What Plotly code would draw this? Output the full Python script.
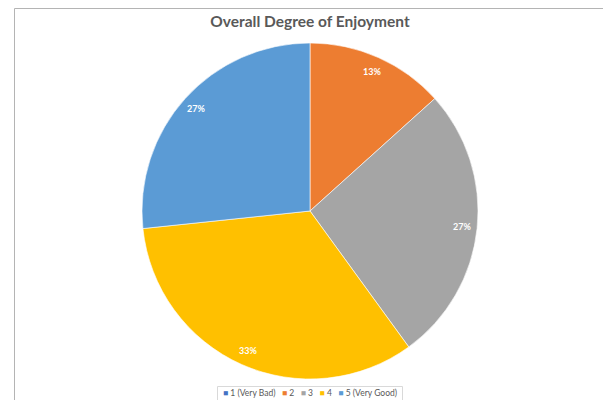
import math
import plotly.graph_objects as go

categories = ["1 (Very Bad)", "2", "3", "4", "5 (Very Good)"]
counts = [0, 2, 4, 5, 4]
colors = ["#4472C4", "#ED7D31", "#A5A5A5", "#FFC000", "#5B9BD5"]
title_text = "Overall Degree of Enjoyment"

W, H = 603, 400
cx, cy, R = 310, 211, 168

fig = go.Figure()
fig.add_trace(go.Pie(
    labels=categories, values=counts, sort=False, direction="clockwise", rotation=0,
    marker=dict(colors=colors, line=dict(color="white", width=0.6)),
    textinfo="none", hoverinfo="label+percent",
    domain=dict(x=[(cx - R) / W, (cx + R) / W], y=[(H - cy - R) / H, (H - cy + R) / H]),
    showlegend=False,
))

total = sum(counts)
cum = 0
annotations = []
for c, v in zip(categories, counts):
    if v > 0:
        mid = (cum + v / 2) / total * 2 * math.pi
        r = 0.91 * R
        px = cx + r * math.sin(mid)
        py = cy - r * math.cos(mid)
        annotations.append(dict(
            x=px / W, y=1 - py / H, xref="paper", yref="paper",
            xanchor="center", yanchor="middle",
            text=f"{round(v / total * 100)}%", showarrow=False,
            font=dict(family="Lato", size=9, color="white", weight="bold"),
        ))
    cum += v

# legend drawn as text built from the category/colour arrays
legend_text = "&nbsp;&nbsp;&nbsp;".join(
    f'<span style="color:{col}">■</span>&nbsp;{lab}' for lab, col in zip(categories, colors)
)
annotations.append(dict(
    x=310 / W, y=1 - 393 / H, xref="paper", yref="paper", xanchor="center", yanchor="middle",
    text=legend_text, showarrow=False,
    font=dict(family="Lato", size=8.5, color="#595959"),
))

fig.update_layout(
    width=W, height=H,
    margin=dict(l=0, r=0, t=0, b=0, autoexpand=False),
    paper_bgcolor="white", plot_bgcolor="white",
    title=dict(text=title_text, x=310 / W, xanchor="center", y=1 - 22 / H, yanchor="middle",
               font=dict(family="Lato", size=15.5, color="#595959", weight="bold")),
    annotations=annotations,
    shapes=[
        dict(type="line", xref="paper", yref="paper", x0=14.5 / W, x1=14.5 / W, y0=0, y1=1 - 8.5 / H,
             line=dict(color="#B4B4B4", width=1)),
        dict(type="line", xref="paper", yref="paper", x0=14.5 / W, x1=1, y0=1 - 8.5 / H, y1=1 - 8.5 / H,
             line=dict(color="#B4B4B4", width=1)),
        dict(type="rect", xref="paper", yref="paper", x0=217.5 / W, x1=402.5 / W, y0=-0.02, y1=1 - 386.5 / H,
             line=dict(color="#D9D9D9", width=1)),
    ],
)

fig.write_html("out.html", config={"displayModeBar": False},
               post_script="document.body.style.margin='0';document.body.style.overflow='hidden';")
